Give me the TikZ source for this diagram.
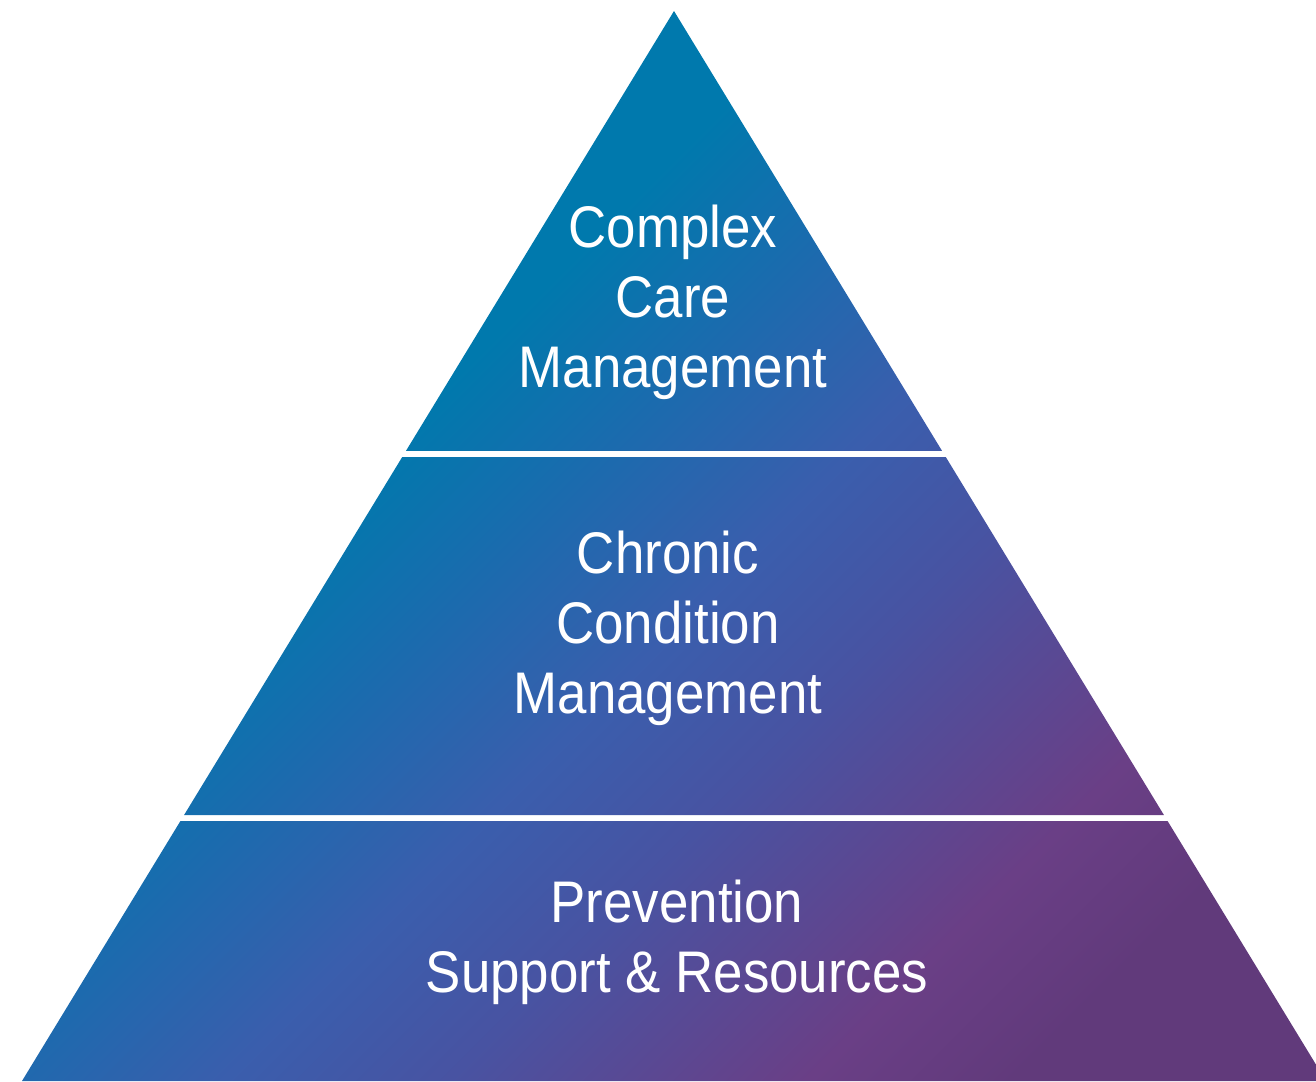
\documentclass[tikz,border=0pt]{standalone}
\usepackage{fontspec}
\setmainfont{Liberation Sans}[FakeStretch=0.9]
\usetikzlibrary{calc}

\definecolor{tierteal}{RGB}{0,121,173}
\definecolor{tierblue}{RGB}{27,107,174}
\definecolor{tiercobalt}{RGB}{58,94,173}
\definecolor{tierviolet}{RGB}{72,83,162}
\definecolor{tierpurple}{RGB}{106,63,134}
\definecolor{tierplum}{RGB}{97,58,123}

\pgfdeclarehorizontalshading{tiershade}{100bp}{color(0bp)=(tierteal); color(36.5bp)=(tierteal);
  color(42.5bp)=(tierblue); color(49bp)=(tiercobalt); color(55bp)=(tierviolet);
  color(64.5bp)=(tierpurple); color(70bp)=(tierplum); color(100bp)=(tierplum)}

\tikzset{
  tier label/.style={text=white, align=center, inner sep=0pt,
    font=\fontsize{58.7}{70}\selectfont}
}

\begin{document}
\begin{tikzpicture}[x=1pt, y=-1pt]
        \useasboundingbox (0,0) rectangle (1316,1081);

        \coordinate (apex) at (674,11);
        \coordinate (bl) at (22,1081);
        \coordinate (br) at (1326,1081);

        \coordinate (t1l) at ($(apex)!0.41121!(bl)$);
        \coordinate (t1r) at ($(apex)!0.41121!(br)$);
        \coordinate (t2l) at ($(apex)!0.41682!(bl)$);
        \coordinate (t2r) at ($(apex)!0.41682!(br)$);
        \coordinate (t3l) at ($(apex)!0.75140!(bl)$);
        \coordinate (t3r) at ($(apex)!0.75140!(br)$);
        \coordinate (t4l) at ($(apex)!0.75701!(bl)$);
        \coordinate (t4r) at ($(apex)!0.75701!(br)$);

        % three tiers, one gradient
        \begin{scope}
            \clip (apex) -- (t1r) -- (t1l) -- cycle
                  (t2l) -- (t2r) -- (t3r) -- (t3l) -- cycle
                  (t4l) -- (t4r) -- (br) -- (bl) -- cycle;
            \shade[shading=tiershade, shading angle=-45] (0,0) rectangle (1340,1340);
        \end{scope}

        \node[tier label] (complex) at (673,302) {Complex\\Care~\\Management};
        \node[tier label] (chronic) at (668,628) {Chronic\\Condition\\Management};
        \node[tier label] (prevention) at (677,942) {Prevention\\Support \& Resources};
    \end{tikzpicture}
\end{document}
